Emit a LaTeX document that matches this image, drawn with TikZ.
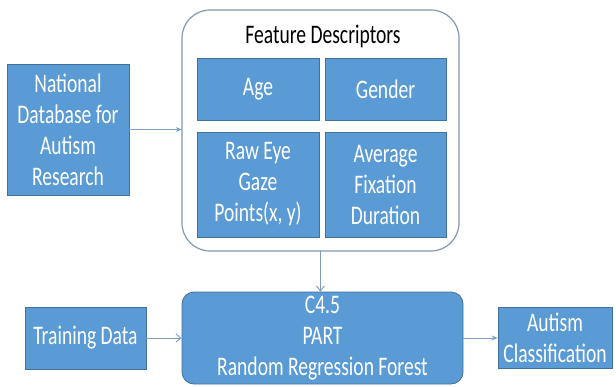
\documentclass[tikz,border=0pt]{standalone}
\usepackage{fontspec}
\setmainfont[FakeStretch=0.73]{Carlito}
\usetikzlibrary{arrows.meta}
\definecolor{boxblue}{HTML}{5B9BD5}
\definecolor{boxedge}{HTML}{41719C}
\definecolor{arrowc}{HTML}{7FA3C8}
\definecolor{contedge}{HTML}{8497B0}
\tikzset{
  bluebox/.style={draw=boxedge, line width=0.8pt, fill=boxblue, text=white, align=center,
    font=\fontsize{26.8}{31}\selectfont, inner sep=0pt},
  conn/.style={draw=arrowc, line width=1pt, -{Stealth[length=6pt,width=5pt]}},
  connopen/.style={draw=arrowc!80!gray, line width=0.9pt, -{Straight Barb[length=5pt,width=8pt]}},
}
\begin{document}
\begin{tikzpicture}[x=1pt,y=-1pt]
\useasboundingbox (0,0) rectangle (616,386);
% container
\draw[draw=contedge, line width=1.2pt, fill=white, rounded corners=28pt] (182,10) rectangle (459,251);
\node (container) [minimum width=277pt, minimum height=241pt, inner sep=0pt] at (320.5,130.5) {};
\node (title) [font=\fontsize{26.8}{31}\selectfont] at (323,36) {Feature Descriptors};
\node (age) [bluebox, minimum width=122pt, minimum height=62pt] at (258,89) {Age};
\node (gender) [bluebox, minimum width=121pt, minimum height=62pt] at (385.5,89) {Gender};
\node (raw) [bluebox, minimum width=122pt, minimum height=105pt] at (258,184.5) {Raw Eye\\Gaze\\Points(x, y)};
\node (avg) [bluebox, minimum width=121pt, minimum height=105pt] at (385.5,184.5) {Average\\Fixation\\Duration};
% left source
\node (ndar) [bluebox, minimum width=122pt, minimum height=131pt] at (68,129.5) {National\\Database for\\Autism\\Research};
% algorithm
\node (algo) [bluebox, rounded corners=12pt, minimum width=281pt, minimum height=92pt] at (322.5,338) {C4.5\\PART\\Random Regression Forest};
\node (train) [bluebox, minimum width=121pt, minimum height=62pt] at (85.5,338) {Training Data};
\node (class) [bluebox, minimum width=114pt, minimum height=61pt] at (555,337.5) {Autism\\Classification};
% connectors
\draw[conn] (ndar.east) -- (ndar.east -| container.west);
\draw[connopen] (container.south) -- (container.south |- algo.north);
\draw[connopen] (train.east) -- (train.east -| algo.west);
\draw[conn] (algo.east) -- (algo.east -| class.west);
\end{tikzpicture}
\end{document}
